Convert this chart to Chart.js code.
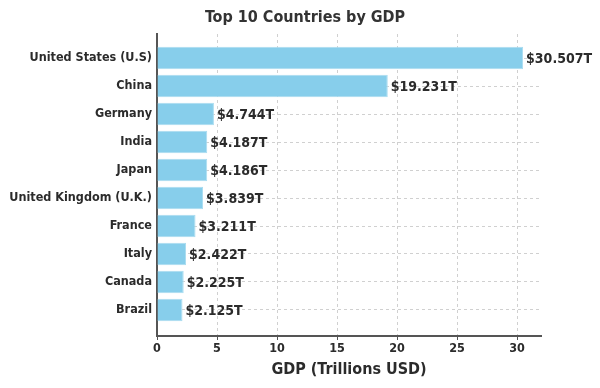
<!DOCTYPE html>
<html>
<head>
<meta charset="utf-8">
<script src="https://cdn.jsdelivr.net/npm/chart.js@4"></script>
<style>
  html, body { margin: 0; padding: 0; background: #fff; }
  #wrap { width: 600px; height: 388px; position: relative; }
</style>
</head>
<body>
<div id="wrap"><canvas id="gdpChart"></canvas></div>
<script>
const countries = ['United States (U.S)', 'China', 'Germany', 'India', 'Japan',
    'United Kingdom (U.K.)', 'France', 'Italy', 'Canada', 'Brazil'];
const gdpValues = [30.507, 19.231, 4.744, 4.187, 4.186, 3.839, 3.211, 2.422, 2.225, 2.125];
const xTicks = [0, 5, 10, 15, 20, 25, 30];

const FONT = "'DejaVu Sans Condensed', 'DejaVu Sans', sans-serif";
const TEXT_COLOR = '#2b2b2b';

// value labels at the end of each bar + figure title
const valueLabels = {
    id: 'valueLabels',
    afterDatasetsDraw(chart) {
        const ctx = chart.ctx;
        const meta = chart.getDatasetMeta(0);
        ctx.save();
        ctx.font = 'bold 14px ' + FONT;
        ctx.fillStyle = TEXT_COLOR;
        ctx.textAlign = 'left';
        ctx.textBaseline = 'middle';
        meta.data.forEach((bar, i) => {
            ctx.fillText('$' + gdpValues[i].toFixed(3) + 'T', bar.x + 3, bar.y + 1);
        });
        ctx.font = 'bold 16px ' + FONT;
        ctx.textAlign = 'center';
        ctx.fillStyle = '#333';
        ctx.fillText('Top 10 Countries by GDP', 305, 18);
        ctx.restore();
    }
};

const ctx = document.getElementById('gdpChart').getContext('2d');
const chart = new Chart(ctx, {
    type: 'bar',
    data: {
        datasets: [{
            data: gdpValues.map((v, i) => ({ x: v, y: i })),
            backgroundColor: '#87CEEB',
            borderColor: '#a9dcf0',
            borderWidth: 1,
            barPercentage: 0.8,
            categoryPercentage: 1.0
        }]
    },
    options: {
        indexAxis: 'y',
        responsive: true,
        maintainAspectRatio: false,
        animation: false,
        layout: { padding: { top: 34, right: 59, left: 0, bottom: 9 } },
        plugins: {
            legend: { display: false },
            tooltip: { enabled: false }
        },
        scales: {
            x: {
                type: 'linear',
                min: 0,
                max: 32,
                afterBuildTicks: (scale) => { scale.ticks = xTicks.map(v => ({ value: v })); },
                grid: { color: '#d0d0d0', lineWidth: 1, drawTicks: true, tickLength: 4, tickColor: '#555' },
                border: { display: true, color: '#555', width: 2, dash: [3, 3] },
                ticks: {
                    padding: 1,
                    color: TEXT_COLOR,
                    font: { family: FONT, size: 12.5, weight: 'bold' }
                },
                title: {
                    display: true,
                    text: 'GDP (Trillions USD)',
                    color: TEXT_COLOR,
                    padding: { top: 3, bottom: 0 },
                    font: { family: FONT, size: 16, weight: 'bold' }
                },
                afterFit: (scale) => { scale.height = 43; }
            },
            y: {
                type: 'linear',
                reverse: true,
                offset: false,
                min: -0.86,
                max: 9.93,
                afterBuildTicks: (scale) => { scale.ticks = countries.map((c, i) => ({ value: i })); },
                grid: { color: '#d0d0d0', lineWidth: 1, drawTicks: false, offset: false },
                border: { display: true, color: '#555', width: 2, dash: [3, 3] },
                ticks: {
                    padding: 5,
                    color: TEXT_COLOR,
                    font: { family: FONT, size: 12.5, weight: 'bold' },
                    callback: (value) => countries[value] || ''
                },
                afterFit: (scale) => { scale.width = 157; }
            }
        }
    },
    plugins: [valueLabels]
});
</script>
</body>
</html>
